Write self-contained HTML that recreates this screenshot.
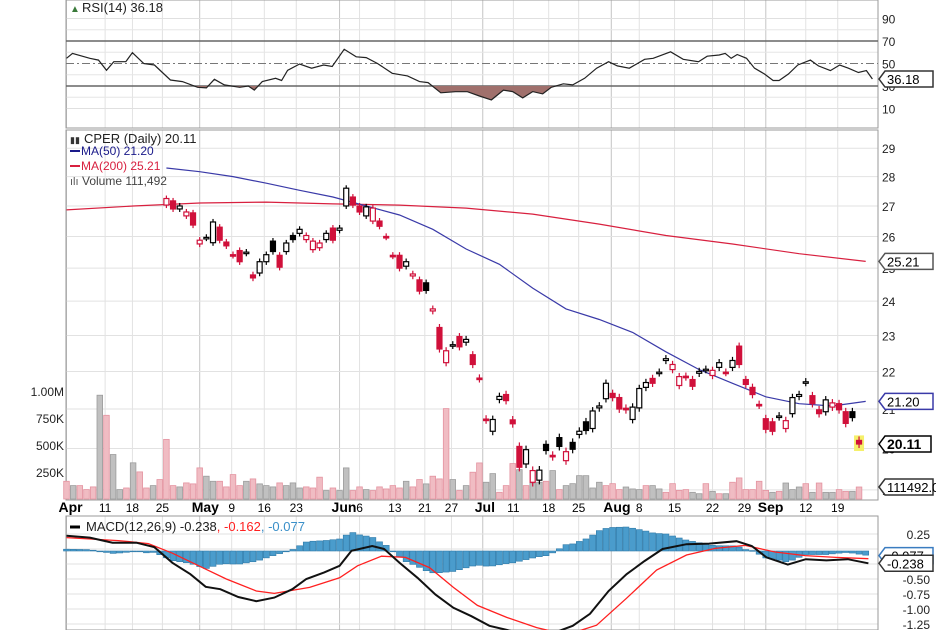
<!DOCTYPE html>
<html><head><meta charset="utf-8"><style>
body{margin:0;background:#fff;}
svg{display:block;font-family:"Liberation Sans",sans-serif;}
</style></head><body>
<svg id="chart" width="936" height="630" viewBox="0 0 936 630" xmlns="http://www.w3.org/2000/svg">
<rect x="0" y="0" width="936" height="630" fill="#fff"/>
<g id="grid"></g>
<g id="rsi"></g>
<g id="vol"></g>
<g id="price"></g>
<g id="macd"></g>
<g id="labels"></g>
</svg>
<script>
// ---- data ----
const volDir = "pgpppgpggpgppgpppgpppggppppgpgggpgggpppgpggppgpppppgppgpppgpgp" + "pggpppgpggpgpggggggpppgggpggppppggpgpgppppppgpgggpgpggppgp";
const volumes = [164,124,124,87,112,961,775,412,87,102,335,251,102,124,180,552,124,112,149,140,288,211,164,164,112,226,124,164,186,140,124,112,149,124,149,102,112,102,202,78,102,78,288,78,112,87,78,112,93,124,102,164,112,180,140,211,186,837,180,78,124,248,
334,155,235,62,124,328,272,124,148,155,164,263,87,124,142,216,216,102,155,124,142,87,111,93,87,124,124,93,62,142,80,87,62,49,142,71,49,49,155,195,87,87,164,80,62,71,148,87,111,142,62,148,62,62,87,71,71,111];
const opens = [27.03,27.17,26.9,26.67,26.77,25.76,25.95,25.8,26.3,25.82,25.42,25.55,25.47,24.79,24.85,25.2,25.85,25.4,25.52,26.03,26.1,25.9,25.58,25.64,25.9,26.27,26.2,27.0,27.3,27.0,26.67,26.5,26.5,26.0,25.4,25.4,25.06,24.76,24.64,24.55,23.71,23.23,22.24,22.72,22.97,22.81,22.46,21.82,20.74,20.43,21.25,21.38,20.72,20.05,19.62,19.18,19.23,20.1,19.83,20.27,19.7,20.15,20.35,20.67,20.5,21.03,21.27,21.41,21.3,21.02,20.73,21.03,21.57,21.81,21.96,22.3,22.05,21.62,21.87,21.78,21.95,22.05,21.89,22.11,21.98,22.11,22.7,21.78,21.57,21.12,20.75,20.67,20.8,20.5,20.88,21.33,21.7,21.35,20.98,20.93,21.05,21.14,20.93,20.93,20.2];
const closes = [27.25,26.9,27.0,26.8,26.37,25.88,25.97,26.47,25.88,25.7,25.4,25.2,25.5,24.7,25.2,25.42,25.52,25.03,25.79,25.9,26.23,26.03,25.85,25.79,26.1,25.88,26.27,27.6,27.03,26.8,26.97,26.93,26.33,25.98,25.38,25.0,25.2,24.82,24.3,24.32,23.77,22.62,22.57,22.74,22.68,22.89,22.19,21.8,20.72,20.73,21.33,21.22,20.62,19.54,19.97,19.46,19.47,19.95,19.8,20.05,19.92,19.98,20.43,20.45,20.95,21.08,21.68,21.3,21.0,20.98,21.05,21.54,21.7,21.68,21.98,22.35,22.19,21.86,21.85,21.6,22.0,22.06,22.03,22.24,21.97,22.3,22.19,21.65,21.38,21.1,20.48,20.43,20.82,20.7,21.3,21.38,21.72,21.14,20.88,21.24,21.16,20.98,20.63,20.78,20.11];
const ma50Day = [15,20,25,30,35,40,45,50,55,60,65,70,75,80,85,90,95,100,105,110,115,120];
const ma50 = [28.3,28.17,28.0,27.77,27.53,27.3,27.0,26.7,26.23,25.6,25.12,24.39,23.77,23.46,23.09,22.54,22.05,21.68,21.32,21.14,21.08,21.2];
const ma200Day = [0,10,20,30,40,50,60,70,80,90,100,110,120];
const ma200 = [26.87,27.0,27.1,27.13,27.07,27.03,26.93,26.73,26.4,26.03,25.76,25.45,25.21];
const rsiDay = [0,0.9,3.5,4.8,6,7.1,8.9,9.9,11.6,13.2,15.6,17.4,19.7,21,22.2,23.7,26,27.3,28.2,29.4,31.4,32.3,33.2,35,36.8,38.6,39.9,41.7,43.5,45,46.7,48.9,51.2,53,54.3,56.2,58.4,60.2,62,63.8,65.6,67,68.5,70,71.5,72.8,74.6,76,77.8,79.6,81.4,82.7,84.5,86.8,88.1,90.7,92.6,94.9,96.2,98,98.9,99.8,100.7,102.1,103.3,104.8,106.1,107,108.4,109.8,111.7,112.9,114.7,116.1,117.4,118.9,120.1,121];
const rsi = [54.6,59,54.6,53,44,51.6,51.6,59.6,50,48.7,35.3,33.9,28.8,28.3,36,31,28.8,30,26.4,33.9,36.8,34.9,44,49.6,45.8,48.7,47.3,62.6,56,55.2,50,41.3,39,33.9,33,24,24.9,24.9,21.1,17.6,26.4,25,19.4,25,23,28.8,32,31,36.8,45.8,51.6,47.9,45.8,53.7,54.6,60.4,53.7,51.6,56.5,57.6,59,54.6,58,54.6,45.8,40.7,34.9,34.9,40.7,48.7,53,47.9,43.7,48.7,45.8,42,43.7,36.18];
const macdDay = [0,3.5,6.9,10.5,13.2,15.9,18.6,20.9,23.1,25.8,28.5,31.2,33.9,36,38.7,41,42.8,45.9,47.7,50,52.7,55.4,58.1,60.8,63.5,66.9,72.4,76,78.6,81.4,84.1,86.8,89.5,93.1,96.5,100.6,102.9,105.1,108.3,111,114.1,117.3,120.4];
const macd = [0.22,0.19,0.105,0.105,0.03,-0.23,-0.42,-0.63,-0.67,-0.8,-0.87,-0.81,-0.67,-0.5,-0.39,-0.28,-0.03,0.05,0,-0.23,-0.48,-0.76,-0.98,-1.12,-1.28,-1.37,-1.43,-1.28,-1.08,-0.7,-0.42,-0.2,0,0.08,0.09,0.13,0.05,-0.14,-0.26,-0.17,-0.19,-0.17,-0.238];
const sigDay = [0,7.8,12.3,15.9,20.4,24,28.5,31.2,36.5,41,43.7,47.3,50.9,54.5,58.1,61.7,66.1,70.6,75.1,79.6,84.1,88.6,93.1,97.4,101.9,106.4,110.9,115.5,120.4];
const signal = [0.19,0.14,0.09,-0.07,-0.31,-0.5,-0.7,-0.74,-0.64,-0.48,-0.28,-0.12,-0.14,-0.31,-0.64,-0.94,-1.14,-1.31,-1.43,-1.27,-0.82,-0.35,-0.1,0.01,0.06,-0.05,-0.11,-0.14,-0.162];
const tickLabels = ["Apr","11","18","25","May","9","16","23","Jun","6","13","21","27","Jul","11","18","25","Aug","8","15","22","29","Sep","12","19"];
const tickDays = [0,5.8,9.9,14.4,20,24.8,29.7,34.5,41,44,49.3,53.8,57.8,62.5,67.1,72.4,76.9,81.8,86,91.3,97,101.8,105,111,115.8];
const priceTicks = [29,28,27,26,25,24,23,22,21,20,19];
const rsiTicks = [90,70,50,30,10];
const macdTicks = [0.25,0,-0.25,-0.5,-0.75,-1.0,-1.25];
const volTicks = [1000,750,500,250];
const volTickLabels = ["1.00M","750K","500K","250K"];
const candleStart = 15;

// ---- scales ----
const L = 66, R = 878;
const xDay = d => 66.5 + d * 6.66;
const yPrice = p => 2869 - 808 * Math.log(p);
const yVol = v => 499 - v / 250 * 27;
const yRsi = v => 41 + (70 - v) * 1.125;
const yMacd = v => 549 - v * 60;
const NS = "http://www.w3.org/2000/svg";
function mk(parent, tag, attrs, text) {
  const e = document.createElementNS(NS, tag);
  for (const k in attrs) e.setAttribute(k, attrs[k]);
  if (text !== undefined) e.textContent = text;
  document.getElementById(parent).appendChild(e);
  return e;
}
function interp(days, vals, d) {
  if (d <= days[0]) return vals[0];
  for (let i = 1; i < days.length; i++) if (d <= days[i]) { const t = (d - days[i-1]) / (days[i] - days[i-1]); return vals[i-1] + t * (vals[i] - vals[i-1]); }
  return vals[vals.length - 1];
}
const pathOf = (days, vals, fy) => days.map((d, i) => (i ? "L" : "M") + xDay(d).toFixed(1) + "," + fy(vals[i]).toFixed(1)).join("");

// ---- panels / grid ----
let e;
tickDays.forEach((d, i) => {
  const x = xDay(d), month = isNaN(+tickLabels[i]);
  [[0,128],[130,500],[516,630]].forEach(([a,b]) => {
    e = mk("grid", "line", {x1:x, x2:x, y1:a, y2:b, stroke: month ? "#c4c4c4" : "#e2e2e2", "stroke-width":1});
    
    
  });
  e = mk("labels", "text", {x: x + (month ? -8 : 0), y: 512, "font-size": month ? 14 : 12, "font-weight": month ? "bold" : "normal", "text-anchor": month ? "start" : "middle", fill: "#000"}, tickLabels[i]);
  
  
});
[80,60,40,20].forEach(v => { e = mk("grid","line",{x1:L,x2:R,y1:yRsi(v),y2:yRsi(v),stroke:"#e6e6e6"});   });
[90,10].forEach(v => { e = mk("grid","line",{x1:L,x2:R,y1:yRsi(v),y2:yRsi(v),stroke:"#e0e0e0"});   });
rsiTicks.forEach(v => { e = mk("labels","text",{x:882,y:yRsi(v)+5,"font-size":12,fill:"#222"}, String(v));   });
priceTicks.forEach(p => {
  e = mk("grid","line",{x1:L,x2:R,y1:yPrice(p),y2:yPrice(p),stroke:"#e2e2e2"});  
  e = mk("labels","text",{x:882,y:yPrice(p)+5,"font-size":12,fill:"#222"}, String(p));  
});
volTicks.forEach((v,i) => { e = mk("labels","text",{x:64,y:yVol(v)+5,"font-size":12,"text-anchor":"end",fill:"#222"}, volTickLabels[i]);   });
macdTicks.forEach(v => {
  e = mk("grid","line",{x1:L,x2:R,y1:yMacd(v),y2:yMacd(v),stroke:"#e2e2e2"});  
  if (v !== 0) { e = mk("labels","text",{x:930,y:yMacd(v)+5,"font-size":12,"text-anchor":"end",fill:"#222"}, v.toFixed(2));   }
});
[[0,128],[130,500],[516,630]].forEach(([a,b]) => {
  e = mk("grid","rect",{x:L,y:a,width:R-L,height:b-a,fill:"none",stroke:"#9a9a9a"});  
});

// ---- RSI ----
[70,30].forEach(v => { e = mk("rsi","line",{x1:L,x2:R,y1:yRsi(v),y2:yRsi(v),stroke:"#666","stroke-width":1.5});   });
e = mk("rsi","line",{x1:L,x2:R,y1:yRsi(50),y2:yRsi(50),stroke:"#777","stroke-dasharray":"8,3,2,3"});  
const cp = mk("rsi","clipPath",{id:"below30"});
const cr = document.createElementNS(NS,"rect"); cr.setAttribute("x",L); cr.setAttribute("y",yRsi(30)); cr.setAttribute("width",R-L); cr.setAttribute("height",40); cp.appendChild(cr);
const rp = pathOf(rsiDay, rsi, yRsi);
e = mk("rsi","path",{d: rp + "L" + xDay(rsiDay[rsiDay.length-1]) + "," + yRsi(30) + "L" + xDay(0) + "," + yRsi(30) + "Z", fill:"#a0706c", "clip-path":"url(#below30)"});  
e = mk("rsi","path",{d: rp, fill:"none", stroke:"#222", "stroke-width":1.2});  

// ---- Volume ----
volumes.forEach((v, i) => {
  const up = volDir[i] === "g";
  e = mk("vol","rect",{x: xDay(i) - 2.8, y: yVol(v), width: 5.6, height: 499 - yVol(v), fill: up ? "#c0c0c0" : "#f0bcc3", stroke: up ? "#9c9c9c" : "#e493a0", "stroke-width":0.8});
  
  
});

// ---- Moving averages ----
e = mk("price","path",{d: pathOf(ma200Day, ma200, yPrice), fill:"none", stroke:"#d8203f", "stroke-width":1.2});  
e = mk("price","path",{d: pathOf(ma50Day, ma50, yPrice), fill:"none", stroke:"#3a3aa8", "stroke-width":1.2});  

// ---- Candles ----
opens.forEach((o, i) => {
  const c = closes[i], prev = i ? closes[i-1] : 27.3;
  const col = c < prev ? "#d0103a" : "#000";
  const x = xDay(i + candleStart);
  const hi = Math.max(o, c) + 0.1, lo = Math.min(o, c) - 0.1;
  if (i === opens.length - 1) { e = mk("price","rect",{x:x-5,y:yPrice(Math.max(o,c))-5,width:10,height:yPrice(Math.min(o,c))-yPrice(Math.max(o,c))+12,fill:"#f5f06a"});   }
  e = mk("price","line",{x1:x,x2:x,y1:yPrice(hi),y2:yPrice(lo),stroke:col,"stroke-width":1.2});
  
  
  const top = yPrice(Math.max(o,c)), h = Math.max(1.5, yPrice(Math.min(o,c)) - top);
  e = mk("price","rect",{x:x-2.5,y:top,width:5,height:h,fill: c > o ? "#fff" : col, stroke: col, "stroke-width":1.2});
  
  
});

// ---- MACD ----
for (let d = 0; d <= 120; d++) {
  const h = interp(macdDay, macd, d) - interp(sigDay, signal, d);
  const y0 = 551, y1 = 551 - h * 60;
  e = mk("macd","rect",{x:xDay(d)-3,y:Math.min(y0,y1),width:6,height:Math.max(0.8,Math.abs(y1-y0)),fill:"#4a9ccc",stroke:"#2f7aa8","stroke-width":0.6});
  
  
}
e = mk("macd","path",{d: pathOf(sigDay, signal, yMacd), fill:"none", stroke:"#ff2020", "stroke-width":1.3});  
e = mk("macd","path",{d: pathOf(macdDay, macd, yMacd), fill:"none", stroke:"#111", "stroke-width":2});  

// ---- value tags ----
function tag(y, txt, color, bold, name) {
  const w = bold ? 46 : 48;
  const g = mk("labels","g",{});
  
  
  const p = document.createElementNS(NS,"path");
  p.setAttribute("d", `M879,${y} L885,${y-8} L${885+w},${y-8} L${885+w},${y+8} L885,${y+8} Z`);
  p.setAttribute("fill","#fff"); p.setAttribute("stroke",color); p.setAttribute("stroke-width",1.5);
  g.appendChild(p);
  const t = document.createElementNS(NS,"text");
  t.setAttribute("x",887); t.setAttribute("y",y+5); t.setAttribute("font-size",bold?14:13); t.setAttribute("fill","#000");
  if (bold) t.setAttribute("font-weight","bold");
  t.textContent = txt; g.appendChild(t);
}
tag(yRsi(rsi[rsi.length-1]), rsi[rsi.length-1].toFixed(2), "#333", false, "rsi-value-tag");
tag(yPrice(ma200[ma200.length-1]), ma200[ma200.length-1].toFixed(2), "#555", false, "ma200-value-tag");
tag(yPrice(ma50[ma50.length-1]), ma50[ma50.length-1].toFixed(2), "#3a3aa8", false, "ma50-value-tag");
tag(yPrice(closes[closes.length-1]), closes[closes.length-1].toFixed(2), "#000", true, "last-price-tag");
tag(yVol(volumes[volumes.length-1]), "111492.0", "#333", false, "volume-value-tag");
tag(yMacd(-0.077)+2, "-0.077", "#3a7cc0", false, "histogram-value-tag");
tag(yMacd(macd[macd.length-1]), macd[macd.length-1].toFixed(3), "#333", false, "macd-value-tag");

// ---- legends ----
function txt(x, y, s, size, fill, name) {
  e = mk("labels","text",{x:x,y:y,"font-size":size,fill:fill}, s);
  
  
  return e;
}
txt(70, 12, "▲", 10, "#3a7a3a", "rsi-legend-icon");
txt(82, 12, "RSI(14) 36.18", 13, "#222", "rsi-legend");
txt(70, 143, "▮▮", 9, "#333", "price-legend-icon");
txt(84, 143, "CPER (Daily) 20.11", 13, "#222", "price-legend");
e = mk("labels","line",{x1:70,x2:80,y1:151,y2:151,stroke:"#1a1a8a","stroke-width":2});  
txt(81, 155, "MA(50) 21.20", 12, "#1a1a8a", "ma50-legend");
e = mk("labels","line",{x1:70,x2:80,y1:166,y2:166,stroke:"#d8203f","stroke-width":2});  
txt(81, 170, "MA(200) 25.21", 12, "#d8203f", "ma200-legend");
txt(70, 185, "ılı", 11, "#555", "volume-legend-icon");
txt(82, 185, "Volume 111,492", 12, "#444", "volume-legend");
e = mk("labels","line",{x1:70,x2:80,y1:527,y2:527,stroke:"#000","stroke-width":3});  
e = mk("labels","text",{x:86,y:531,"font-size":13,fill:"#222"});  
e.innerHTML = 'MACD(12,26,9) -0.238<tspan fill="#ff2020">, -0.162</tspan><tspan fill="#3a8fc8">, -0.077</tspan>';
</script>
</body></html>
